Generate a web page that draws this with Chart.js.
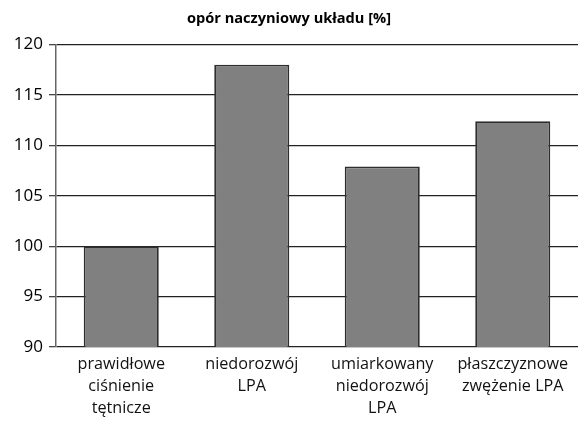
<!DOCTYPE html>
<html>
  <head>
    <title>opór naczyniowy układu</title>
    <meta charset="utf-8" />
    <style>
      html, body { margin: 0; padding: 0; background: #fff; }
      #wrap { width: 578px; height: 423px; }
    </style>
    <script src="https://cdn.jsdelivr.net/npm/chart.js@4.4.0/dist/chart.umd.min.js"></script>
  </head>
  <body>
    <div id="wrap"><canvas id="myChart"></canvas></div>
    <script>
      // data
      const categories = [
        ["prawidłowe", "ciśnienie", "tętnicze"],
        ["niedorozwój", "LPA"],
        ["umiarkowany", "niedorozwój", "LPA"],
        ["płaszczyznowe", "zwężenie LPA"]
      ];
      const values = [100, 118, 107.9, 112.4];
      const yTicks = [90, 95, 100, 105, 110, 115, 120];
      const titleText = "opór naczyniowy układu [%]";

      const font = "'Open Sans', 'DejaVu Sans', sans-serif";
      const ctx = document.getElementById("myChart").getContext("2d");
      new Chart(ctx, {
        type: "bar",
        data: {
          labels: categories,
          datasets: [{
            data: values,
            backgroundColor: "#808080",
            borderColor: "#2e2e2e",
            borderWidth: 1.8,
            categoryPercentage: 1,
            barPercentage: 0.575
          }]
        },
        options: {
          responsive: true,
          maintainAspectRatio: false,
          animation: false,
          layout: { padding: 0 },
          plugins: {
            legend: { display: false },
            tooltip: { enabled: false },
            title: {
              display: true,
              text: titleText,
              color: "#000",
              font: { family: font, size: 14.6, weight: "bold" },
              padding: { top: 10, bottom: 17 }
            }
          },
          scales: {
            x: {
              grid: { display: false, drawTicks: false },
              border: { display: false },
              ticks: {
                color: "#111",
                font: { family: font, size: 16.2, lineHeight: 1.36 },
                padding: 6,
                maxRotation: 0,
                autoSkip: false
              },
              afterFit: s => { s.height = 76; }
            },
            y: {
              min: yTicks[0],
              max: yTicks[yTicks.length - 1],
              afterBuildTicks: s => { s.ticks = yTicks.map(v => ({ value: v })); },
              grid: {
                color: "#222",
                lineWidth: 1.3,
                tickLength: 7,
                tickColor: "#444"
              },
              border: { display: true, color: "#666", width: 1.5 },
              ticks: {
                color: "#000",
                font: { family: font, size: 17 },
                padding: 6
              },
              afterFit: s => { s.width = 56; }
            }
          }
        }
      });
    </script>
  </body>
</html>
